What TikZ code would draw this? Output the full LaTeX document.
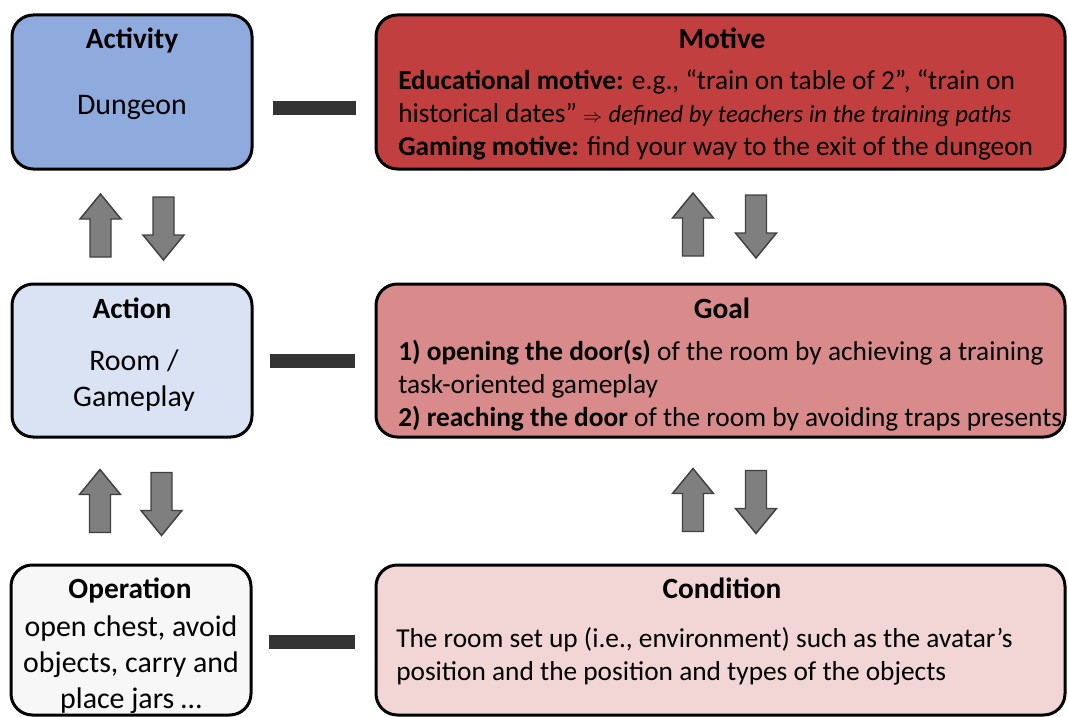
\documentclass[tikz,border=0pt]{standalone}
\usepackage{fontspec}
\setmainfont{Carlito}
\usetikzlibrary{calc}

\definecolor{actblue}{HTML}{8FAADC}
\definecolor{acnblue}{HTML}{DAE3F3}
\definecolor{opegray}{HTML}{F7F7F7}
\definecolor{motred}{HTML}{C13F3F}
\definecolor{golred}{HTML}{D98A8A}
\definecolor{conpink}{HTML}{F2D5D5}
\definecolor{barcol}{HTML}{333333}
\definecolor{arrfill}{HTML}{7F7F7F}
\definecolor{arrline}{HTML}{404040}

\begin{document}
\begin{tikzpicture}[x=0.75pt,y=0.75pt,yscale=-1,xscale=1,
  box/.style={draw=black,line width=2.25pt,rounded corners=16pt,inner sep=0pt},
  ttl/.style={font=\fontsize{22}{26}\selectfont\bfseries,inner sep=0pt,anchor=base},
  txt/.style={font=\fontsize{20.5}{24.6}\selectfont,inner sep=0pt,align=left,anchor=north west},
  big/.style={font=\fontsize{22.4}{27}\selectfont,inner sep=0pt,align=center,anchor=north},
  bar/.style={draw=barcol,line width=10.5pt},
  blk/.style={draw=arrline,fill=arrfill,line width=1.1pt},
  % pics are drawn unflipped, so positive y points up here
  uparr/.pic={\draw[blk] (-10.5,-31.5) -- (-10.5,6.5) -- (-20.5,6.5) -- (0,31.5) -- (20.5,6.5) -- (10.5,6.5) -- (10.5,-31.5) -- cycle;},
  dnarr/.pic={\draw[blk] (-10.5,31.5) -- (-10.5,-6.5) -- (-20.5,-6.5) -- (0,-31.5) -- (20.5,-6.5) -- (10.5,-6.5) -- (10.5,31.5) -- cycle;}
]
\useasboundingbox (0,0) rectangle (1068,717);

%Boxes
\node[box,fill=actblue,minimum width=180pt,minimum height=115.5pt] (act) at (132,92) {};
\node[box,fill=motred,minimum width=516.75pt,minimum height=115.5pt] (mot) at (720.5,92) {};
\node[box,fill=acnblue,minimum width=180pt,minimum height=114.75pt] (acn) at (132,360.5) {};
\node[box,fill=golred,minimum width=516.75pt,minimum height=114.75pt] (gol) at (720.5,360.5) {};
\node[box,fill=opegray,minimum width=180pt,minimum height=112.5pt] (ope) at (131,640) {};
\node[box,fill=conpink,minimum width=516.75pt,minimum height=112.5pt] (con) at (720.5,640) {};

%Titles
\node[ttl] (actt) at (132,49) {Activity};
\node[ttl] (mott) at (722,49) {Motive};
\node[ttl] (acnt) at (132,318) {Action};
\node[ttl] (golt) at (722,318) {Goal};
\node[ttl] (opet) at (130,598) {Operation};
\node[ttl] (cont) at (722,598) {Condition};

%Texts
\node[big,anchor=base] (actx) at (132,115) {Dungeon};
\node[txt] (motx) at (398,69.5) {\textbf{Educational motive:} e.g., “train on table of 2”, “train on\\
  historical dates” {\fontsize{15}{15}\selectfont$\Rightarrow$} {\fontsize{18.5}{18.5}\selectfont\itshape defined by teachers in the training paths}\\
  \textbf{Gaming motive:} find your way to the exit of the dungeon};
\node[big] (acnx) at (134,349) {Room /\\Gameplay};
\node[txt] (golx) at (398,340) {\textbf{1) opening the door(s)} of the room by achieving a training\\
  task-oriented gameplay\\
  \textbf{2) reaching the door} of the room by avoiding traps presents};
\node[big] (opex) at (131,615) {open chest, avoid\\objects, carry and\\place jars …};
\node[txt] (conx) at (396,627) {The room set up (i.e., environment) such as the avatar’s\\
  position and the position and types of the objects};

%Bars
\draw[bar] ($(act.east)+(19,16)$) -- ($(mot.west)+(-19,16)$);
\draw[bar] ($(acn.east)+(16,0)$) -- ($(gol.west)+(-20,0)$);
\draw[bar] ($(ope.east)+(16,2)$) -- ($(con.west)+(-20,2)$);

%Arrows
\pic at ($(act.south)!.5!(acn.north)+(-31.5,-1)$) {uparr};
\pic at ($(act.south)!.5!(acn.north)+(31.5,2)$) {dnarr};
\pic at ($(acn.south)!.5!(ope.north)+(-31.5,0)$) {uparr};
\pic at ($(acn.south)!.5!(ope.north)+(30,3)$) {dnarr};
\pic at ($(mot.south)!.5!(gol.north)+(-27.5,-2)$) {uparr};
\pic at ($(mot.south)!.5!(gol.north)+(35.5,0)$) {dnarr};
\pic at ($(gol.south)!.5!(con.north)+(-27.5,-1)$) {uparr};
\pic at ($(gol.south)!.5!(con.north)+(35.5,1)$) {dnarr};

\end{tikzpicture}
\end{document}
